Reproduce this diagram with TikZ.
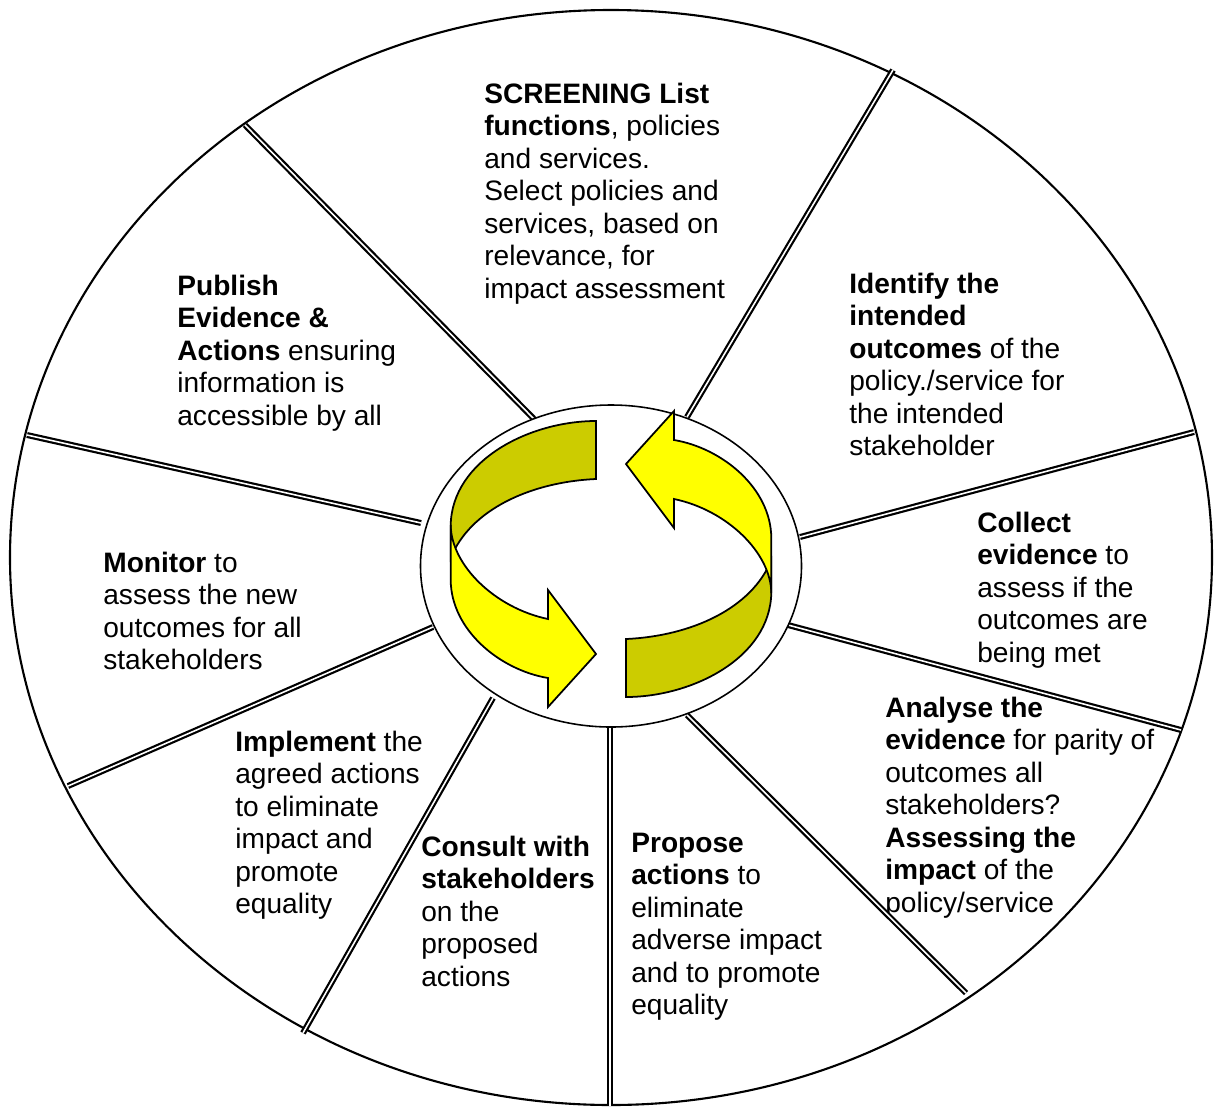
\documentclass[tikz,border=0pt]{standalone}
\usepackage{fontspec}
\setmainfont{Liberation Sans}
\definecolor{ribbonlit}{HTML}{FFFF00}
\definecolor{ribbondark}{HTML}{CCCC00}
\begin{document}
\begin{tikzpicture}[x=0.02cm, y=-0.02cm,
    rim/.style={line width=1.2pt},
    spoke/.style={double, double distance=0.9pt, line width=1.25pt},
    blurb/.style={anchor=north west, align=left, inner sep=0pt,
        font=\fontsize{16}{18.5}\selectfont},
    backside/.style={fill=ribbondark, draw, line width=1pt},
    frontside/.style={fill=ribbonlit, draw, line width=1pt}]
\useasboundingbox (0,0) rectangle (1214,1106);
\draw[rim] (611,557.5) ellipse (601 and 547.5);

\node[blurb] (screening) at (484,82.5) {\textbf{SCREENING List}\\\textbf{functions}, policies\\and services.\\Select policies and\\services, based on\\relevance, for\\impact assessment};
\node[blurb] (publish) at (177,274.5) {\textbf{Publish}\\\textbf{Evidence \&}\\\textbf{Actions} ensuring\\information is\\accessible by all};
\node[blurb] (identify) at (849,272.5) {\textbf{Identify the}\\\textbf{intended}\\\textbf{outcomes} of the\\policy./service for\\the intended\\stakeholder};
\node[blurb] (collect) at (977,511.5) {\textbf{Collect}\\\textbf{evidence} to\\assess if the\\outcomes are\\being met};
\node[blurb] (monitor) at (103,551.5) {\textbf{Monitor} to\\assess the new\\outcomes for all\\stakeholders};
\node[blurb] (analyse) at (885,696.5) {\textbf{Analyse the}\\\textbf{evidence} for parity of\\outcomes all\\stakeholders?\\\textbf{Assessing the}\\\textbf{impact} of the\\policy/service};
\node[blurb] (implement) at (235,730.5) {\textbf{Implement} the\\agreed actions\\to eliminate\\impact and\\promote\\equality};
\node[blurb] (consult) at (421,835.5) {\textbf{Consult with}\\\textbf{stakeholders}\\on the\\proposed\\actions};
\node[blurb] (propose) at (631,832.5) {\textbf{Propose}\\\textbf{actions} to\\eliminate\\adverse impact\\and to promote\\equality};

% spokes, hub end first
\draw[spoke] (535,420) -- (245,125);
\draw[spoke] (687,417) -- (893,70);
\draw[spoke] (421,523) -- (27,435);
\draw[spoke] (800,537) -- (1194,432);
\draw[spoke] (433,627) -- (68,786);
\draw[spoke] (788,625) -- (1181,730);
\draw[spoke] (493,698) -- (303,1033);
\draw[spoke] (610,728) -- (610,1106);
\draw[spoke] (687,715) -- (966,993);

\draw[line width=0.9pt, fill=white] (611,566) ellipse (190.5 and 161);

% the two ribbon arrows, second one turned half round
\foreach \turn in {0,180} {
  \begin{scope}[rotate around={\turn:(611,559)}]
    \filldraw[backside] (596,421) .. controls (530,421) and (452,460) .. (450.7,525)
        -- (450.7,558) .. controls (470,510) and (530,482) .. (596,479) -- cycle;
    \filldraw[frontside] (450.7,525) .. controls (451,565) and (495,608) .. (548,619)
        -- (548,590) -- (596,654) -- (548,707) -- (548,678)
        .. controls (500,670) and (451,630) .. (450.7,580) -- cycle;
  \end{scope}
}
\end{tikzpicture}
\end{document}
